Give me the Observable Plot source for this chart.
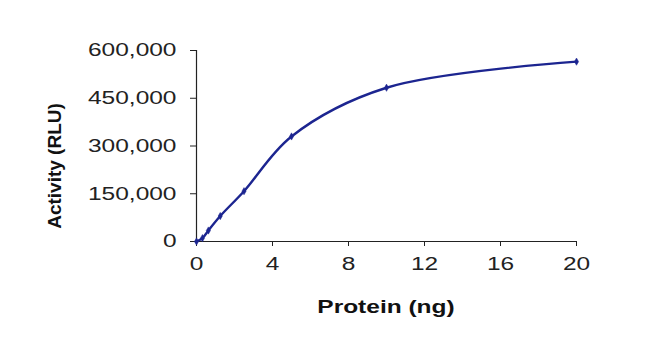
<!DOCTYPE html>
<html>
<head>
<meta charset="utf-8">
<script src="https://cdn.jsdelivr.net/npm/d3@7"></script>
<script src="https://cdn.jsdelivr.net/npm/@observablehq/plot@0.6"></script>
<style>
  html, body { margin: 0; padding: 0; background: #fff; }
</style>
</head>
<body>
<div id="chart"></div>
<script>
// Data
const protein = [0, 0.3125, 0.625, 1.25, 2.5, 5, 10, 20];          // ng
const activity = [0, 10500, 34500, 80000, 158000, 330000, 483000, 565000]; // RLU
const yTicks = [0, 150000, 300000, 450000, 600000];
const xTicks = [0, 4, 8, 12, 16, 20];
const xLabel = "Protein (ng)";
const yLabel = "Activity (RLU)";

const data = protein.map((p, i) => ({protein: p, activity: activity[i]}));
const navy = "#1c2590";
const axisColor = "#222";

const plot = Plot.plot({
  width: 668,
  height: 339,
  marginLeft: 196,
  marginRight: 92,
  marginTop: 50,
  marginBottom: 98,
  style: {fontFamily: "'Liberation Sans', Arial, sans-serif", fontSize: "18px", color: "#222", background: "#fff"},
  x: {domain: [0, 20], ticks: xTicks, tickSize: 5, tickPadding: 11, label: null},
  y: {domain: [0, 600000], ticks: yTicks, tickFormat: d3.format(","), tickSize: 6, tickPadding: 14, label: null},
  marks: [
    Plot.ruleX([0], {stroke: axisColor, strokeWidth: 1.2}),
    Plot.ruleY([0], {stroke: axisColor, strokeWidth: 1.2}),
    Plot.line(data, {x: "protein", y: "activity", stroke: navy, strokeWidth: 2.4, curve: "catmull-rom"}),
    Plot.dot(data, {x: "protein", y: "activity", symbol: "diamond", r: 2.2, fill: navy, stroke: navy, strokeWidth: 0.5})
  ]
});

document.getElementById("chart").appendChild(plot);

const svg = d3.select(plot);
// axis titles
svg.append("text")
  .attr("x", 386).attr("y", 313)
  .attr("text-anchor", "middle")
  .attr("font-weight", "bold")
  .attr("font-size", 18)
  .attr("fill", "#111")
  .text(xLabel);
svg.append("text")
  .attr("transform", "translate(61,166) rotate(-90)")
  .attr("text-anchor", "middle")
  .attr("font-weight", "bold")
  .attr("font-size", 19)
  .attr("fill", "#111")
  .text(yLabel);

// the reference's text is horizontally widened; stretch horizontal labels accordingly
svg.selectAll("text").each(function() {
  const t = this;
  if ((t.getAttribute("transform") || "").includes("rotate")) return;
  const w = t.getComputedTextLength();
  if (w > 0) {
    t.setAttribute("textLength", (w * 1.36).toFixed(1));
    t.setAttribute("lengthAdjust", "spacingAndGlyphs");
  }
});
</script>
</body>
</html>
